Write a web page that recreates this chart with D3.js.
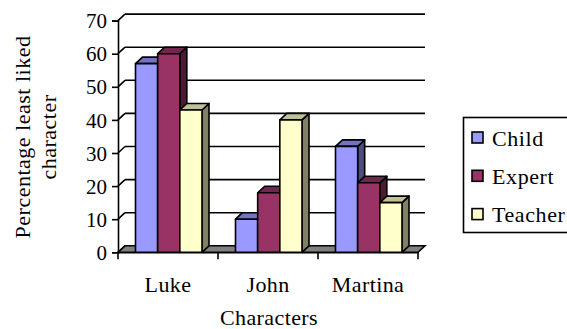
<!DOCTYPE html>
<html>
<head>
<meta charset="utf-8">
<script src="https://cdn.jsdelivr.net/npm/d3@7"></script>
<style>
  html, body { margin: 0; padding: 0; background: #fff; }
  svg { display: block; }
  text { font-family: "Liberation Serif", "Times New Roman", serif; fill: #000; }
</style>
</head>
<body>
<svg id="chart" width="567" height="329"></svg>
<script>
// Percentage of each group that least liked a character
const categories = ["Luke", "John", "Martina"];
const seriesNames = ["Child", "Expert", "Teacher"];
const childValues = [57, 10, 32];
const expertValues = [60, 18, 21];
const teacherValues = [43, 40, 15];
const yTicks = [0, 10, 20, 30, 40, 50, 60, 70];

const seriesValues = [childValues, expertValues, teacherValues];
// front face, top face, side face shades per series
const palette = [
  { front: "#9999FF", top: "#7373C0", side: "#4D4D80" },
  { front: "#993366", top: "#73264D", side: "#4D1A33" },
  { front: "#FFFFCC", top: "#C0C099", side: "#808066" }
];

const svg = d3.select("#chart");
const depthX = 7, depthY = -6.5;

const x = d3.scaleBand().domain(categories).range([118, 418]).paddingInner(0).paddingOuter(0);
const xs = d3.scaleBand().domain(seriesNames).range([17.5, 84]).padding(0);
const y = d3.scaleLinear().domain([0, 70]).range([252.3, 20.6]);

const x0 = x.range()[0], x1 = x.range()[1];

// back wall gridlines and their returns to the value axis
const grid = svg.append("g").attr("stroke", "#000").attr("stroke-width", 1.6).attr("fill", "none");
yTicks.forEach(v => {
  if (v > 0) {
    grid.append("line")
      .attr("x1", x0 + depthX).attr("x2", x1 + depthX)
      .attr("y1", y(v) + depthY).attr("y2", y(v) + depthY);
  }
  grid.append("line")
    .attr("x1", x0).attr("y1", y(v))
    .attr("x2", x0 + depthX).attr("y2", y(v) + depthY);
});

// floor
const floorPts = [[x0, y(0)], [x1, y(0)], [x1 + depthX, y(0) + depthY], [x0 + depthX, y(0) + depthY]];
svg.append("polygon")
  .attr("points", floorPts.map(p => p.join(",")).join(" "))
  .attr("fill", "#808080").attr("stroke", "#000").attr("stroke-width", 1.6);

// 3D columns
const bars = svg.append("g").attr("stroke", "#000").attr("stroke-width", 1.6).attr("stroke-linejoin", "round");
categories.forEach((cat, ci) => {
  seriesNames.forEach((s, si) => {
    const v = seriesValues[si][ci];
    const bx = x(cat) + xs(s);
    const w = xs.bandwidth();
    const yt = y(v), yb = y(0);
    const col = palette[si];
    bars.append("polygon")
      .attr("points", [[bx + w, yt], [bx + w + depthX, yt + depthY], [bx + w + depthX, yb + depthY], [bx + w, yb]].map(p => p.join(",")).join(" "))
      .attr("fill", col.side);
    bars.append("polygon")
      .attr("points", [[bx, yt], [bx + depthX, yt + depthY], [bx + w + depthX, yt + depthY], [bx + w, yt]].map(p => p.join(",")).join(" "))
      .attr("fill", col.top);
    bars.append("rect")
      .attr("x", bx).attr("y", yt).attr("width", w).attr("height", yb - yt)
      .attr("fill", col.front);
  });
});

// value axis
const yAxis = svg.append("g").attr("transform", `translate(${x0},0)`)
  .call(d3.axisLeft(y).tickValues(yTicks).tickSize(6).tickPadding(5).tickFormat(d3.format("d")));
yAxis.select(".domain").attr("stroke", "#000").attr("stroke-width", 1.6);
yAxis.selectAll(".tick line").attr("stroke", "#000").attr("stroke-width", 1.6);
yAxis.selectAll(".tick text").attr("font-size", 21).attr("font-family", "Liberation Serif").attr("dy", "0.34em");

// category axis
const xAxis = svg.append("g").attr("transform", `translate(0,${y(0)})`)
  .call(d3.axisBottom(x).tickSize(0).tickPadding(24));
xAxis.select(".domain").attr("stroke", "#000").attr("stroke-width", 1.6);
xAxis.selectAll(".tick text").attr("font-size", 22).attr("letter-spacing", "0.4px")
  .attr("font-family", "Liberation Serif");
const edges = [x0].concat(categories.map(c => x(c) + x.bandwidth()));
xAxis.selectAll(".edge").data(edges).enter().append("line")
  .attr("x1", d => d).attr("x2", d => d).attr("y1", 0).attr("y2", 7)
  .attr("stroke", "#000").attr("stroke-width", 1.6);

// axis titles
svg.append("text").attr("x", 269).attr("y", 325).attr("text-anchor", "middle")
  .attr("font-size", 22).attr("letter-spacing", "0.4px").text("Characters");
const yTitle = svg.append("text").attr("transform", "translate(0,137) rotate(-90)")
  .attr("text-anchor", "middle").attr("font-size", 22).attr("letter-spacing", "0.5px");
yTitle.append("tspan").attr("x", 0).attr("y", 30).text("Percentage least liked");
yTitle.append("tspan").attr("x", 0).attr("y", 56).text("character");

// legend
const legend = svg.append("g");
legend.append("rect").attr("x", 463.5).attr("y", 117.5).attr("width", 110).attr("height", 115)
  .attr("fill", "#fff").attr("stroke", "#000").attr("stroke-width", 1.6);
seriesNames.forEach((s, i) => {
  const cy = 137.5 + i * 38.3;
  legend.append("rect").attr("x", 472).attr("y", cy - 5.5).attr("width", 11).attr("height", 11)
    .attr("fill", palette[i].front).attr("stroke", "#000").attr("stroke-width", 1.6);
  legend.append("text").attr("x", 492).attr("y", cy + 8).attr("font-size", 22)
    .attr("letter-spacing", "0.6px").text(s);
});
</script>
</body>
</html>
